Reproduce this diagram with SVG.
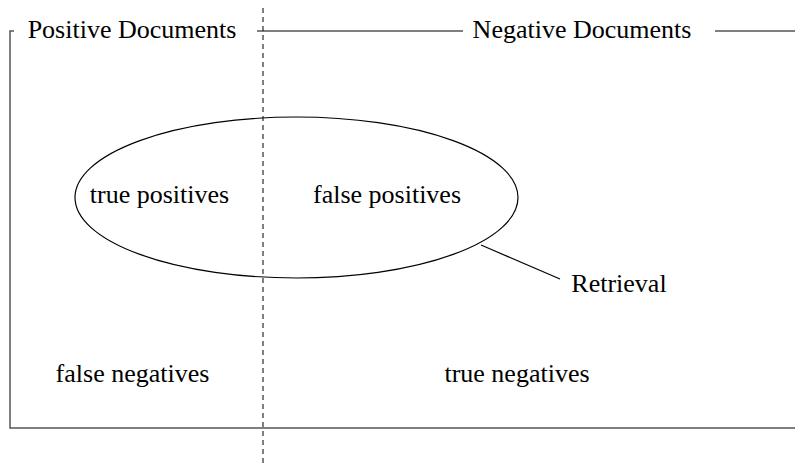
<svg xmlns="http://www.w3.org/2000/svg" width="795" height="466" viewBox="0 0 795 466">
  <style>
    .lbl { font-family: "Liberation Serif", "Times New Roman", serif; font-size: 26px; fill: #000; }
    .frame { fill: none; stroke: #555; stroke-width: 1.5; }
    .rule { stroke: #000; stroke-width: 1.2; fill: none; }
    .divider { stroke: #000; stroke-width: 1; stroke-dasharray: 5 4; fill: none; }
  </style>
  <rect width="795" height="466" fill="#fff"/>

  <!-- outer frame: left edge, bottom edge, header rule segments -->
  <g id="frame">
    <polyline class="frame" points="14,31 10,31 10,428 795,428"/>
    <line class="rule" x1="257" y1="31" x2="463" y2="31"/>
    <line class="rule" x1="715" y1="31" x2="795" y2="31"/>
  </g>

  <g id="positive-header">
    <text class="lbl" x="132" y="38" text-anchor="middle">Positive Documents</text>
  </g>
  <g id="negative-header">
    <text class="lbl" x="582" y="38" text-anchor="middle">Negative Documents</text>
  </g>

  <!-- dashed split between positive and negative documents -->
  <g id="split">
    <line class="divider" x1="263" y1="8" x2="263" y2="466"/>
  </g>

  <!-- retrieved set -->
  <g id="retrieval">
    <ellipse cx="296.5" cy="197.5" rx="221.5" ry="80.5" fill="none" stroke="#000" stroke-width="1.2"/>
    <text class="lbl" x="619" y="292" text-anchor="middle">Retrieval</text>
  </g>

  <g id="connectors">
    <line class="rule" x1="481" y1="245" x2="560" y2="279"/>
  </g>

  <g id="true-positives">
    <text class="lbl" x="159.5" y="203" text-anchor="middle">true positives</text>
  </g>
  <g id="false-positives">
    <text class="lbl" x="387" y="203" text-anchor="middle">false positives</text>
  </g>
  <g id="false-negatives">
    <text class="lbl" x="132.5" y="382" text-anchor="middle">false negatives</text>
  </g>
  <g id="true-negatives">
    <text class="lbl" x="517" y="382" text-anchor="middle">true negatives</text>
  </g>
</svg>
